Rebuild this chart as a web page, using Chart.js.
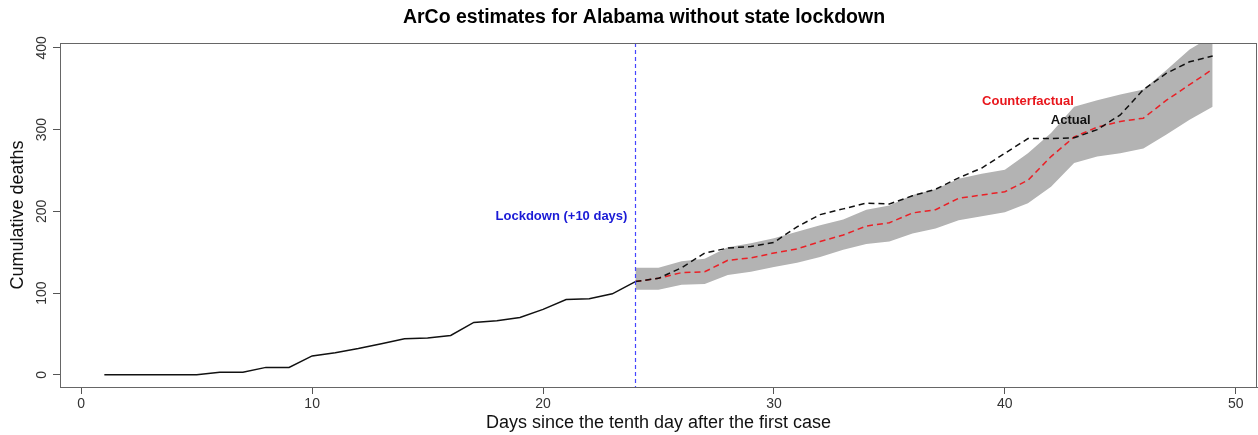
<!DOCTYPE html>
<html><head><meta charset="utf-8">
<script src="https://cdn.jsdelivr.net/npm/chart.js@4.4.0/dist/chart.umd.min.js"></script>
<style>html,body{margin:0;padding:0;background:#fff;}#wrap{width:1258px;height:435px;}</style>
</head><body><div id="wrap"><canvas id="c" width="1258" height="435"></canvas></div>
<script>
const preDays = [1,2,3,4,5,6,7,8,9,10,11,12,13,14,15,16,17,18,19,20,21,22,23,24];
const preActual = [0,0,0,0,0,3,3,9,9,23,27,32,38,44,45,48,64,66,70,80,92,93,99,114];
const postDays = [24,25,26,27,28,29,30,31,32,33,34,35,36,37,38,39,40,41,42,43,44,45,46,47,48,49];
const postActual = [114,118,131,149,155,157,162,181,196,203,210,209,219,227,241,253,271,289,289,290,300,318,349,369,383,390];
const counterfactual = [114,118,125,126,140,143,149,154,163,171,182,186,198,202,216,220,224,238,267,291,303,310,314,336,355,374];
const bandUpper = [131,131,139,142,156,161,167,175,183,190,202,207,220,227,240,246,251,271,296,328,336,343,349,373,398,415];
const bandLower = [104,104,110,111,122,126,132,137,144,153,160,163,173,179,189,194,199,210,230,259,267,271,277,294,312,328];
const xTicks = [0,10,20,30,40,50];
const yTicks = [0,100,200,300,400];
const lockdownDay = 24;
const titleText = 'ArCo estimates for Alabama without state lockdown';
const labels = [
  {text:'Lockdown (+10 days)', x:24, y:194, color:'#1a1ad6', align:'right', dx:-8},
  {text:'Counterfactual', x:41.0, y:335, color:'#e8161c', align:'center', dx:0},
  {text:'Actual', x:42.85, y:311, color:'#111111', align:'center', dx:0}
];

const FONT = "'Liberation Sans', Arial, Helvetica, sans-serif";
const pts = (xs, ys) => xs.map((d,i)=>({x:d, y:ys[i]}));

const decor = {
  id:'decor',
  afterDatasetsDraw(chart){
    const {ctx, chartArea:a, scales:{x}} = chart;
    const px = Math.round(x.getPixelForValue(lockdownDay)) + 0.5;
    ctx.save();
    ctx.strokeStyle = '#4545ff';
    ctx.lineWidth = 1.2;
    ctx.setLineDash([4,3]);
    ctx.beginPath(); ctx.moveTo(px, a.top); ctx.lineTo(px, a.bottom); ctx.stroke();
    ctx.restore();
  },
  afterDraw(chart){
    const {ctx, chartArea:a, scales:{x,y}} = chart;
    ctx.save();
    ctx.strokeStyle = '#666';
    ctx.lineWidth = 1;
    ctx.strokeRect(Math.round(a.left)+0.5, Math.round(a.top)+0.5, Math.round(a.right-a.left)-1, Math.round(a.bottom-a.top));
    // title
    ctx.fillStyle = '#000';
    ctx.font = 'bold 19.5px ' + FONT;
    ctx.textAlign = 'center';
    ctx.textBaseline = 'middle';
    ctx.fillText(titleText, 644, 18);
    // y tick labels rotated like R
    ctx.fillStyle = '#333';
    ctx.font = '14px ' + FONT;
    yTicks.forEach(v=>{
      const py = y.getPixelForValue(v);
      ctx.save(); ctx.translate(42, py); ctx.rotate(-Math.PI/2);
      ctx.fillText(String(v), 0, 0); ctx.restore();
    });
    // annotations
    ctx.font = 'bold 13px ' + FONT;
    labels.forEach(l=>{
      ctx.fillStyle = l.color;
      ctx.textAlign = l.align;
      ctx.fillText(l.text, x.getPixelForValue(l.x)+l.dx, y.getPixelForValue(l.y));
    });
    ctx.restore();
  }
};

new Chart(document.getElementById('c'), {
  type:'line',
  data:{datasets:[
    {label:'lower', data:pts(postDays, bandLower), borderWidth:0, pointRadius:0, fill:false, borderColor:'rgba(0,0,0,0)', order:10},
    {label:'upper', data:pts(postDays, bandUpper), borderWidth:0, pointRadius:0, fill:'-1', backgroundColor:'#b3b3b3', borderColor:'rgba(0,0,0,0)', order:10},
    {label:'Counterfactual', data:pts(postDays, counterfactual), borderColor:'#ea2026', borderWidth:1.5, borderDash:[6,4], pointRadius:0, fill:false, order:2},
    {label:'Actual', data:pts(postDays, postActual), borderColor:'#111', borderWidth:1.5, borderDash:[6,4], pointRadius:0, fill:false, order:1},
    {label:'Actual pre', data:pts(preDays, preActual), borderColor:'#111', borderWidth:1.5, pointRadius:0, fill:false, order:1}
  ]},
  options:{
    responsive:false, animation:false, devicePixelRatio:1,
    layout:{padding:{left:0,right:1,top:43,bottom:0}},
    plugins:{ legend:{display:false}, tooltip:{enabled:false}, title:{display:false} },
    elements:{line:{tension:0}},
    scales:{
      x:{type:'linear', min:-0.92, max:50.92,
        afterBuildTicks:s=>{s.ticks = xTicks.map(v=>({value:v}));},
        afterFit:s=>{s.height = 48;},
        grid:{drawOnChartArea:false, drawTicks:true, tickLength:7, color:'#555'},
        border:{display:true, color:'#666'},
        ticks:{color:'#333', font:{family:FONT, size:14}, padding:2, maxRotation:0, autoSkip:false},
        title:{display:true, text:'Days since the tenth day after the first case', color:'#111',
          font:{family:FONT, size:18}, padding:{top:0,bottom:1.2}}
      },
      y:{type:'linear', min:-15, max:406,
        afterBuildTicks:s=>{s.ticks = yTicks.map(v=>({value:v}));},
        afterFit:s=>{s.width = 60;},
        grid:{drawOnChartArea:false, drawTicks:true, tickLength:7, color:'#555'},
        border:{display:true, color:'#666'},
        ticks:{display:false},
        title:{display:true, text:'Cumulative deaths', color:'#111',
          font:{family:FONT, size:18}, padding:{top:7.2,bottom:0}}
      }
    }
  },
  plugins:[decor]
});
</script></body></html>
